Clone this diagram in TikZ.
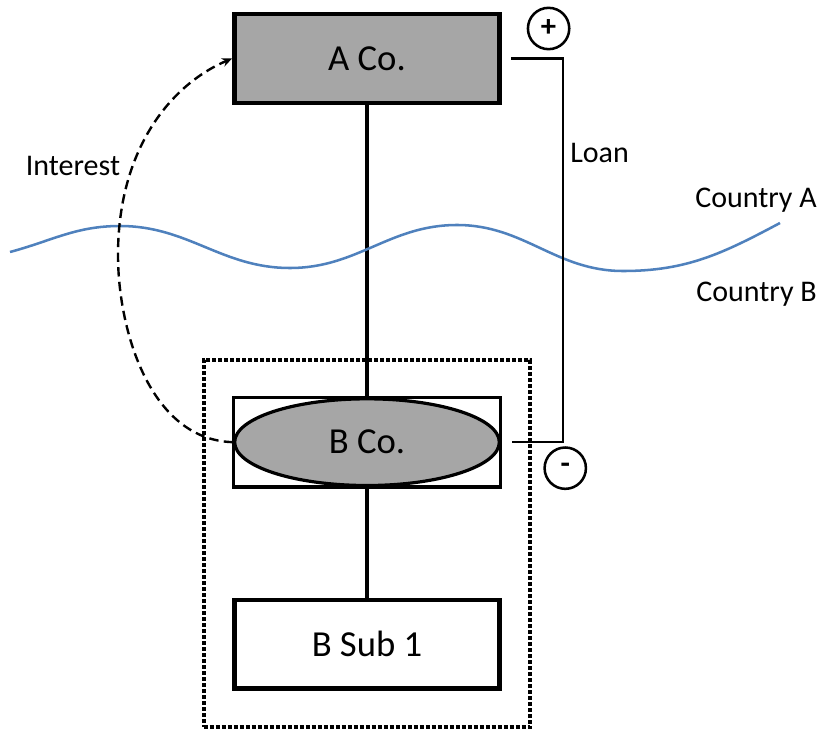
\documentclass[tikz,border=0pt]{standalone}
\usepackage{fontspec}
\setmainfont{Carlito}
\usetikzlibrary{calc, shapes.geometric, positioning, fit}
\usetikzlibrary{arrows.meta}
\definecolor{boxgray}{HTML}{A6A6A6}
\definecolor{borderblue}{HTML}{4F81BD}
\tikzstyle{company-box}=[
rectangle,
draw,
line width=3.4pt,
minimum width=199pt,
minimum height=66.5pt,
font=\fontsize{27.5}{32}\selectfont,
]
\tikzstyle{company-holder}=[
rectangle,
draw,
line width=2.6pt,
minimum width=200.5pt,
minimum height=67pt,
inner sep=0pt,
]
\tikzstyle{company-oval}=[
ellipse,
draw,
line width=2.4pt,
fill=boxgray,
minimum width=198.5pt,
minimum height=65pt,
inner sep=0pt,
font=\fontsize{27.5}{32}\selectfont,
]
\tikzstyle{group-frame}=[
draw,
line width=3pt,
dash pattern=on 3pt off 1.5pt,
inner xsep=21pt,
inner ysep=27pt,
]
\tikzstyle{sign-circle}=[
circle,
draw,
line width=1.9pt,
minimum size=31pt,
inner sep=0pt,
font=\bfseries\fontsize{23}{26}\selectfont,
]
\tikzstyle{side-text}=[
inner sep=0pt,
font=\fontsize{22.5}{26}\selectfont,
]

\begin{document}
\begin{tikzpicture}[x=0.75pt, y=0.75pt]
        \useasboundingbox (0,0) rectangle (819,-735);

        % the two companies and the subsidiary
        \node[company-box, fill=boxgray] (aco) at (367,-58.5) {A Co.};
        \node[company-holder, below=218pt of aco] (bcobox) {};
        \node[company-oval] (bco) at (bcobox.center) {B Co.};
        \node[company-box, below=81.75pt of bcobox] (bsub) {B Sub 1};
        \node[group-frame, fit=(bcobox)(bsub)] (bgroup) {};

        \draw[line width=2.4pt] (aco) -- (bcobox);
        \draw[line width=2.4pt] (bcobox) -- (bsub);

        % border between the countries
        \draw[borderblue, line width=1.9pt] (10,-252)
          to[out=15, in=180] (120,-226)
          to[out=0, in=180] (290,-268)
          to[out=0, in=180] (457,-225)
          to[out=0, in=180] (623,-271)
          to[out=0, in=208] (780,-223);
        \node[side-text, anchor=east] (cta) at (817,-200) {Country A};
        \node[side-text, anchor=east] (ctb) at (817,-294) {Country B};

        % loan from A Co. down to B Co.
        \coordinate[right=46pt of aco.east] (loantop);
        \coordinate (loanbot) at (loantop |- bcobox.east);
        \draw[line width=1.8pt] ([xshift=7pt]aco.east) -- (loantop)
          -- (loanbot) -- ([xshift=7pt]bcobox.east);
        \node[side-text, anchor=west] (loan) at (570,-153) {Loan};
        \node[sign-circle] (plus) at ([shift={(-11pt,22.5pt)}]loantop) {+};
        \node[sign-circle] (minus) at ([shift={(1.5pt,-19.5pt)}]loanbot) {-};

        % interest paid back up
        \draw[line width=1.8pt, dash pattern=on 7pt off 4pt, -{Stealth[length=7.5pt, width=6.5pt]}]
          (bco.west) .. controls (150,-440) and (118,-330) .. (118,-255)
          .. controls (118,-150) and (170,-85) .. (aco.west);
        \node[side-text] (interest) at (73,-166) {Interest};
      \end{tikzpicture}
\end{document}
